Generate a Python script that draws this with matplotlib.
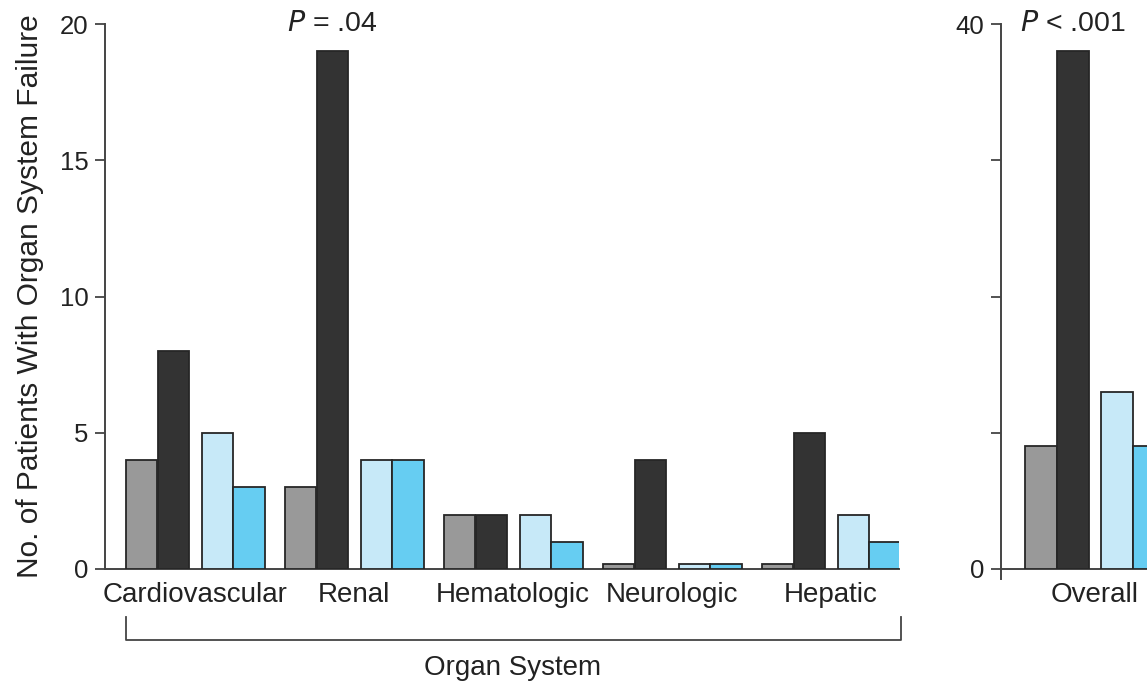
import numpy as np
import matplotlib
matplotlib.use("Agg")
import matplotlib.pyplot as plt
from matplotlib.transforms import blended_transform_factory

plt.rcParams['font.family'] = ['Liberation Sans', 'DejaVu Sans']
plt.rcParams['font.size'] = 20

# Patients with organ system failure, four study arms per organ system
organs = ['Cardiovascular', 'Renal', 'Hematologic', 'Neurologic', 'Hepatic']
arm_gray = [4, 3, 2, 0, 0]
arm_dark = [8, 19, 2, 4, 5]
arm_light = [5, 4, 2, 0, 2]
arm_blue = [3, 4, 1, 0, 1]

overall_label = ['Overall']
overall_gray = [9]
overall_dark = [38]
overall_light = [13]
overall_blue = [9]

colors = ['#999999', '#333333', '#c7e9f8', '#66cdf2']
offsets = [-0.336, -0.136, 0.141, 0.341]
width = 0.198
stub = 0.2  # zero counts still get a thin visible bar
edge = '#262626'
spine_col = '#444444'
text_col = '#222222'

fig = plt.figure(figsize=(11.47, 6.85), dpi=100)
W, H = 1147, 685


def px_axes(x0, x1, y0, y1):
    return fig.add_axes([x0 / W, 1 - y1 / H, (x1 - x0) / W, (y1 - y0) / H])


def draw_bars(ax, x, series):
    for off, vals, c in zip(offsets, series, colors):
        h = [max(v, stub) for v in vals]
        ax.bar(x + off, h, width, color=c, edgecolor=edge, linewidth=1.3,
               zorder=3)


def style(ax):
    for s in ('top', 'right'):
        ax.spines[s].set_visible(False)
    for s in ('left', 'bottom'):
        ax.spines[s].set_color(spine_col)
        ax.spines[s].set_linewidth(1.4)
    ax.tick_params(axis='y', direction='out', length=7, width=1.3,
                   color=spine_col, pad=5, labelcolor=text_col,
                   labelsize=18.5)
    ax.tick_params(axis='x', length=0, pad=9, labelcolor=text_col)


# left panel: organ systems
ax = px_axes(105, 899, 24, 569)
x = np.arange(len(organs))
draw_bars(ax, x, [arm_gray, arm_dark, arm_light, arm_blue])
ax.set_xlim(-0.566, 4.428)
ax.set_ylim(0, 20)
ax.set_yticks([0, 5, 10, 15, 20])
ax.set_xticks(x)
ax.set_xticklabels(organs)
style(ax)
ax.set_ylabel('No. of Patients With Organ System Failure', color=text_col,
              fontsize=21.5)
ax.yaxis.set_label_coords(-0.077, 0.5)
ax.text(x[1] + offsets[1], 20, r'$\it{P}$ = .04', ha='center', va='center',
        color=text_col, fontsize=20.5)

# bracket grouping the organ systems
tr = blended_transform_factory(ax.transData, ax.transAxes)
bx0 = x[0] + offsets[0] - width / 2
bx1 = x[-1] + offsets[-1] + width / 2
ax.plot([bx0, bx0, bx1, bx1], [-0.088, -0.13, -0.13, -0.088], color=spine_col,
        lw=1.3, transform=tr, clip_on=False)
ax.text(x.mean(), -0.182, 'Organ System', ha='center', va='center',
        transform=tr, color=text_col)

# right panel: overall
ax2 = px_axes(1001, 1160, 24, 569)
x2 = np.arange(len(overall_label))
draw_bars(ax2, x2, [overall_gray, overall_dark, overall_light, overall_blue])
ax2.set_xlim(-0.588, 0.412)
ax2.set_ylim(0, 40)
ax2.set_yticks([0, 10, 20, 30, 40])
ax2.set_yticklabels(['0', '', '', '', '40'])
ax2.set_xticks(x2)
ax2.set_xticklabels(overall_label)
style(ax2)
ax2.spines['left'].set_bounds(-0.7, 40)
ax2.text(x2[0] + offsets[1], 40, r'$\it{P}$ < .001', ha='center', va='center',
         color=text_col, fontsize=20.5)

fig.savefig('out.png', dpi=100)
